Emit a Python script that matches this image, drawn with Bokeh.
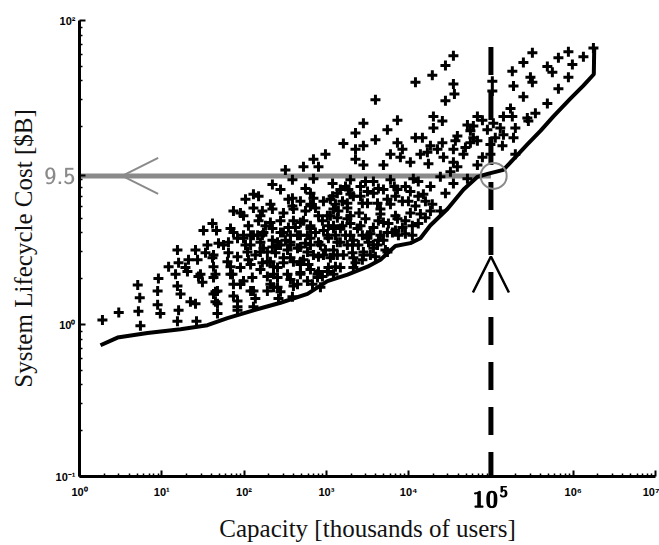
from bokeh.plotting import figure
from bokeh.models import FixedTicker, CustomJSTickFormatter, Arrow, OpenHead, MathML
from bokeh.embed import file_html
from bokeh.resources import INLINE

# ---- data (capacity in thousands of users, cost in $B) ----
capacity = [
    1.9, 3.0, 5.1, 5.4, 5.2, 5.5, 9.1, 8.9, 8.9, 9.6, 15.5, 12.1, 14.7, 15.5, 16.9, 16.0, 15.5, 20.5,
    25.7, 27.2, 27.9, 22.3, 25.7, 26.4, 32.1, 35.9, 41.3, 44.9, 47.5, 44.9, 46.2, 56.2, 62.8, 68.4,
    74.3, 74.3, 83.2, 74.3, 98.4, 110, 120, 126, 130, 130, 172, 172, 209, 228, 228, 277, 255, 301,
    337, 366, 446, 484, 446, 641, 697, 780, 847, 1030, 1120, 1220, 1800, 2130, 3160, 3430, 4180,
    16.0, 19.4, 21.1, 29.5, 31.2, 42.5,
    975, 697, 802, 527, 318, 387, 697, 1190, 221, 277, 130, 150, 104, 557, 130, 209, 221, 387, 398,
    74.3, 90.4, 158, 277, 209, 398, 641, 697, 922, 1190, 41.3, 68.4, 113, 130, 167, 221, 277, 346,
    527, 641, 802, 1030, 1220, 48.9, 64.6, 83.2, 104, 158, 221, 277, 366, 446, 589, 737, 922, 1220,
    34.0, 42.5, 64.6, 83.2, 137, 192, 241, 337, 484, 641, 802, 1060, 1290, 42.5, 68.4, 90.4, 167,
    228, 301, 398, 527, 922, 1220, 42.5, 72.3, 98.4, 192, 255, 484, 641, 802, 1060, 44.9, 120, 192,
    255, 398, 589, 780, 47.5, 83.2, 137, 262, 387, 47.5, 83.2,
    12100, 35000, 28000, 36000, 3950, 2820, 7310, 20000, 25700, 68500, 51800, 2260, 5520, 20000,
    39100, 56300, 1610, 3950, 7310, 12100, 14700, 25700, 37000, 61200, 2820, 2260, 8400, 18400,
    22400, 35000, 49000, 56300, 2260, 6010, 7940, 13900, 16900, 26500, 46300, 78800, 2820, 4940,
    10500, 17400, 35000, 39100, 68500, 1960, 2600, 3730, 6010, 11400, 18400, 24300, 35000, 51800,
    1360, 1960, 3160, 4940, 7310, 10500, 15100, 28000, 1290, 1800, 2740, 4180, 6010, 8400, 12100,
    19400, 1360, 1960, 2990, 4540, 6910, 10500, 13900, 1480, 2390, 3730, 5520, 8400, 11100, 1360,
    2130, 3250, 4940, 6350, 1360, 2080, 2820, 3730, 1290, 35000, 28000, 19400, 61200,
    319000, 248000, 182000, 188000, 302000, 319000, 485000, 558000, 661000, 874000, 977000,
    1330000, 874000, 661000, 248000, 485000, 347000, 277000, 285000, 104000, 104000, 173000,
    142000, 182000, 78800, 107000, 130000, 198000, 90600, 142000, 188000, 113000, 68500, 98600,
    138000, 98600, 198000, 1760000,
    98.4, 167, 346, 387, 641, 641, 1120, 1480, 1800, 2130, 2500, 3160, 3730, 4540, 5520, 6700,
    4940, 7310, 2600, 3160, 3730, 4540, 5520, 1800, 1960, 2080, 1480, 1220, 847, 641, 484, 366,
    301, 255, 589, 484, 366, 1220, 1610, 2130, 2820, 1480, 1030, 484, 255, 192, 158, 120, 98.4, 146,
    1710, 1570, 2740, 4290, 6910, 9140, 13100, 16000, 24300, 9140, 13100, 32200,
    484, 557, 737, 896, 1060, 1400, 1710, 1960, 2450, 2740, 3430, 4290, 5220, 5680, 7510, 9140,
    3950, 2260, 975, 802, 557, 421, 318, 484, 678, 896, 366, 209, 158, 113, 90.4, 301, 182,
    150, 120, 221, 606, 1850, 2990, 4290, 6910, 9940, 13100, 18400, 11100, 16000, 2600, 1570, 1120,
]
cost = [
    1.07, 1.20, 1.82, 1.50, 1.22, 0.98, 2.01, 1.66, 1.35, 1.18, 3.09, 2.40, 2.14, 1.79, 1.59, 1.24, 1.05, 2.23,
    3.09, 2.67, 2.07, 1.41, 1.37, 1.05, 4.15, 3.33, 2.75, 2.14, 1.66, 1.41, 4.15, 3.33, 2.59, 2.14,
    1.84, 1.54, 1.31, 4.03, 3.69, 3.00, 2.48, 2.04, 1.66, 1.31, 4.03, 3.18, 2.59, 2.14, 1.76, 1.64, 3.33, 2.75,
    2.14, 3.86, 3.18, 2.48, 1.84, 3.69, 2.87, 2.14, 1.76, 3.86, 2.75, 2.14, 3.33, 2.37, 3.69, 2.87, 3.33,
    2.55, 2.37, 2.67, 2.14, 1.90, 1.59,
    13.2, 12.2, 10.9, 10.9, 10.4, 8.97, 9.10, 8.45, 8.33, 7.73, 7.18, 6.97, 6.67, 7.85, 5.84, 6.19, 5.75, 6.77, 5.75,
    5.58, 5.42, 5.19, 4.82, 4.68, 4.82, 6.01, 6.77, 6.47, 6.97, 4.61, 4.28, 4.47, 3.86, 3.86, 4.28, 4.03, 4.34,
    4.82, 4.47, 5.19, 5.19, 5.75, 3.43, 3.48, 3.69, 3.33, 3.48, 3.58, 3.33, 3.48, 3.86, 3.86, 4.03, 4.15, 4.47,
    2.96, 2.87, 2.96, 2.79, 2.87, 3.00, 2.96, 3.09, 3.23, 3.33, 3.48, 3.69, 3.86, 2.40, 2.40, 2.37, 2.55,
    2.40, 2.55, 2.59, 2.67, 2.87, 3.09, 2.04, 2.14, 1.93, 2.07, 2.04, 2.20, 2.30, 2.23, 2.37, 1.64, 1.66, 1.66,
    1.76, 1.79, 1.93, 2.04, 1.37, 1.43, 1.48, 1.48, 1.52, 1.18, 1.24,
    39.3, 38.2, 29.7, 32.9, 30.1, 21.1, 22.1, 23.4, 21.8, 23.4, 20.5, 18.2, 19.1, 19.6,
    17.4, 18.8, 15.5, 16.4, 15.7, 16.9, 16.9, 15.7, 16.2, 16.9, 15.0, 14.2, 14.2, 15.0,
    14.2, 14.2, 14.6, 15.7, 12.2, 13.2, 12.6, 13.2, 13.6, 12.6, 13.2, 12.6, 11.2, 11.2,
    11.7, 11.4, 11.7, 10.9, 11.2, 8.97, 8.08, 8.71, 8.97, 9.10, 8.08, 9.37, 8.45, 9.10,
    7.29, 7.18, 7.51, 7.73, 7.73, 7.51, 7.18, 7.29, 6.19, 5.84, 6.28, 6.28, 6.19, 6.47, 6.01,
    6.19, 5.04, 5.19, 4.96, 5.34, 5.19, 5.42, 5.34, 4.28, 4.28, 4.34, 4.03, 4.34, 4.47, 3.48,
    3.58, 3.48, 3.58, 4.03, 2.87, 2.96, 3.00, 3.18, 2.40, 58.6, 50.6, 43.6, 20.2,
    61.3, 52.9, 46.3, 37.1, 42.4, 39.3, 49.8, 45.6, 56.9, 62.2, 51.3,
    57.8, 42.4, 35.5, 31.5, 28.4, 24.5, 22.8, 21.8, 39.9, 34.4, 26.4,
    23.4, 23.4, 22.1, 21.1, 19.6, 19.6, 19.1, 17.7, 16.9, 16.9, 16.2, 15.3,
    15.0, 13.2, 13.2, 66.0,
    5.19, 5.58, 6.67, 6.01, 7.29, 6.19, 6.67, 7.73, 6.28, 6.97, 5.42, 6.28, 7.29, 5.75, 6.67, 8.08,
    4.68, 4.96, 4.47, 3.86, 3.33, 3.86, 3.00, 4.96, 3.86, 3.33, 3.48, 4.28, 3.33, 4.28, 4.68, 3.33,
    4.03, 3.48, 3.00, 2.59, 2.75, 2.87, 2.87, 2.75, 2.87, 2.37, 2.23, 2.14, 2.37, 2.59, 3.00, 3.33, 3.86, 3.86,
    8.08, 4.47, 3.86, 4.82, 4.15, 4.82, 4.61, 6.47, 5.58, 8.08, 8.71, 10.1,
    6.47, 5.58, 5.84, 4.82, 4.47, 5.58, 3.86, 4.61, 3.33, 2.67, 3.96, 3.58, 3.09, 4.61, 3.86, 3.96,
    2.79, 2.55, 3.09, 2.79, 3.43, 4.34, 3.58, 3.86, 1.84, 2.07, 1.98, 1.84, 2.30, 2.67, 1.84, 5.42, 4.47,
    4.82, 3.86, 3.23, 2.48, 7.73, 8.71, 7.85, 6.97, 6.47, 6.97, 5.58, 3.86, 5.04, 6.97, 6.47, 5.19,
]

front_capacity = [1.8, 2.9, 6.7, 16.9, 35.9, 62.8, 130, 277, 590, 1030, 1810, 3160, 4540, 6900,
                  10500, 13900, 18300, 29600, 46500, 68700, 91000, 142000, 187000, 277000, 400000,
                  575000, 930000, 1320000, 1780000, 1800000]
front_cost = [0.73, 0.82, 0.88, 0.93, 0.99, 1.10, 1.24, 1.39, 1.59, 1.93, 2.13, 2.40, 2.67, 3.28,
              3.43, 3.69, 4.48, 5.75, 7.73, 9.37, 9.8, 10.4, 12.2, 15.3, 18.8,
              23.4, 30.7, 37.1, 44.3, 66.0]

selected_capacity = 1e5      # dashed requirement line
selected_cost = 9.5          # cost
dash_top_cost = 67
circle_capacity = 1.08e5
left_arrow_tip_capacity = 3.3
up_arrow_tip_cost = 2.8

x_major = [1, 10, 100, 1e3, 1e4, 1e5, 1e6, 1e7]
y_major = [0.1, 1, selected_cost, 100]

GRAY = "#8a8a8a"

p = figure(width=659, height=545, x_axis_type="log", y_axis_type="log",
           x_range=(1, 1e7), y_range=(0.1, 100),
           output_backend="svg", toolbar_location=None,
           min_border_left=79, min_border_right=4, min_border_top=20, min_border_bottom=58)
p.outline_line_color = None
p.grid.visible = False
p.background_fill_color = "white"
p.border_fill_color = "white"

x_minor = [m * 10 ** e for e in range(0, 7) for m in range(2, 10)]
y_minor = [m * 10 ** e for e in (-1, 0, 1) for m in range(2, 10)]
p.xaxis.ticker = FixedTicker(ticks=x_major, minor_ticks=x_minor)
p.yaxis.ticker = FixedTicker(ticks=y_major, minor_ticks=y_minor)

fmt_code = """
const s = {"-": "\\u207b", "0": "\\u2070", "1": "\\u00b9", "2": "\\u00b2", "3": "\\u00b3",
           "4": "\\u2074", "5": "\\u2075", "6": "\\u2076", "7": "\\u2077", "8": "\\u2078", "9": "\\u2079"};
const e = Math.round(Math.log10(tick));
if (e == skip) { return ""; }
return "10" + String(e).split("").map(c => s[c]).join("");
"""
p.xaxis.formatter = CustomJSTickFormatter(code=fmt_code, args=dict(skip=99))
p.yaxis.formatter = CustomJSTickFormatter(code=fmt_code, args=dict(skip=1))

for ax in (p.xaxis[0], p.yaxis[0]):
    ax.axis_line_width = 3
    ax.axis_line_color = "black"
    ax.major_tick_in = 6
    ax.major_tick_out = 0
    ax.major_tick_line_width = 2
    ax.minor_tick_in = 3
    ax.minor_tick_out = 0
    ax.minor_tick_line_width = 1.5
    ax.major_label_text_font = "Liberation Sans"
    ax.major_label_text_font_style = "bold"
    ax.major_label_text_font_size = "11px"
    ax.major_label_text_color = "black"
    ax.axis_label_text_font = "Liberation Serif"
    ax.axis_label_text_font_style = "normal"
    ax.axis_label_text_font_size = "25px"
    ax.axis_label_text_color = "#111111"

# larger, bold label for the selected capacity; gray label for the selected cost
p.xaxis.major_label_overrides = {selected_capacity: MathML(text=(
    '<math><mstyle mathsize="1.75em">'
    '<msup><mn mathvariant="bold-sans-serif">10</mn><mn mathvariant="bold-sans-serif">5</mn></msup>'
    '</mstyle></math>'))}
p.yaxis.major_label_overrides = {selected_cost: MathML(text=(
    '<math><mstyle mathsize="1.8em">'
    '<mn mathvariant="sans-serif" mathcolor="#8a8a8a" style="color:#8a8a8a">9.5</mn>'
    '</mstyle></math>'))}

p.xaxis.axis_label = "Capacity [thousands of users]"
p.yaxis.axis_label = "System Lifecycle Cost [$B]"
p.xaxis.major_label_standoff = 9
p.xaxis.axis_label_standoff = 4
p.yaxis.major_label_standoff = 4
p.yaxis.axis_label_standoff = 4

# gray cost line from the front back to the cost axis
p.line([1, selected_capacity], [selected_cost, selected_cost], line_color=GRAY, line_width=5)

# design points
p.scatter(capacity, cost, marker="cross", size=10, line_width=3, line_color="black")

# Pareto front
p.line(front_capacity, front_cost, line_color="black", line_width=4)

# dashed requirement line
p.line([selected_capacity, selected_capacity], [dash_top_cost, 0.1],
       line_color="black", line_width=5, line_dash="28 17")

# circle at the intersection
p.scatter([circle_capacity], [selected_cost], marker="circle", size=26,
          fill_color=None, line_color=GRAY, line_width=2)

# arrow heads
p.add_layout(Arrow(end=OpenHead(size=36, line_color=GRAY, line_width=2),
                   x_start=30, y_start=selected_cost,
                   x_end=left_arrow_tip_capacity, y_end=selected_cost, line_alpha=0))
p.add_layout(Arrow(end=OpenHead(size=36, line_color="black", line_width=2.5),
                   x_start=selected_capacity, y_start=1,
                   x_end=selected_capacity, y_end=up_arrow_tip_cost, line_alpha=0))

open("out.html", "w", encoding="utf-8").write(file_html(p, INLINE))
